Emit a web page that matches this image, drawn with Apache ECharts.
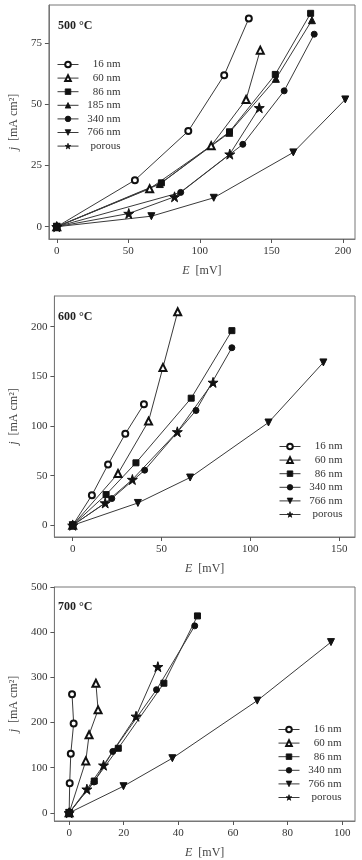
<!DOCTYPE html>
<html><head><meta charset="utf-8">
<script src="https://cdn.jsdelivr.net/npm/echarts@6/dist/echarts.min.js"></script>
<style>html,body{margin:0;padding:0;background:#fff}#c{width:362px;height:860px}</style>
</head><body><div id="c"></div>
<script>
// ---- data: [E mV, j mA cm^-2] ----
const t500_16  = [[0,0],[54.6,19.0],[91.9,39.0],[117,61.8],[134.2,84.9]];
const t500_60  = [[0,0],[64.9,15.5],[107.9,33.0],[132.3,51.9],[142.2,72.0]];
const t500_86  = [[0,0],[73.1,17.9],[120.7,38.7],[152.7,62.1],[177.4,87.0]];
const t500_185 = [[0,0],[72.0,17.4],[120.5,38.3],[153.1,60.3],[178.3,84.2]];
const t500_340 = [[0,0],[86.6,14.0],[130.0,33.6],[158.9,55.4],[179.9,78.5]];
const t500_766 = [[0,0],[66.1,4.3],[109.7,11.8],[165.3,30.3],[201.6,51.9]];
const t500_por = [[0,0],[50.3,5.4],[82.3,12.2],[120.9,29.6],[141.5,48.5]];

const t600_16  = [[0,0],[10.8,30.3],[19.9,61.2],[29.6,92.1],[40.1,122]];
const t600_60  = [[0,0],[25.5,52.1],[42.7,104.9],[50.8,159],[59.1,215]];
const t600_86  = [[0,0],[18.8,30.9],[35.6,62.9],[66.7,128],[89.6,196]];
const t600_340 = [[0,0],[22.0,26.9],[40.5,55.5],[69.4,115.6],[89.6,178.8]];
const t600_766 = [[0,0],[36.7,22.5],[66.1,48.1],[110.2,103.5],[141.1,164]];
const t600_por = [[0,0],[18.3,22.5],[33.6,46.1],[58.9,94.1],[79.0,143.9]];

const t700_16  = [[0,0],[0.2,65.5],[0.6,131],[1.65,198],[1.06,262.5]];
const t700_60  = [[0,0],[6.1,115],[7.3,173],[10.6,228],[9.8,287]];
const t700_86  = [[0,0],[9.2,70.5],[18.0,143],[34.7,287],[47.0,436]];
const t700_340 = [[0,0],[9.1,68.4],[16.0,136],[32.0,272.7],[46.0,414]];
const t700_766 = [[0,0],[19.9,59],[37.8,121],[68.9,248.5],[95.9,378]];
const t700_por = [[0,0],[6.5,52.4],[12.6,105.5],[24.5,213.8],[32.5,323.6]];

const xTicks500 = [0,50,100,150,200];
const yTicks500 = [0,25,50,75];
const xTicks600 = [0,50,100,150];
const yTicks600 = [0,50,100,150,200];
const xTicks700 = [0,20,40,60,80,100];
const yTicks700 = [0,100,200,300,400,500];

const panelTitles = ['500 °C','600 °C','700 °C'];

// ---- styling ----
const FONT = "'Liberation Serif','Times New Roman',serif";
const STAR = 'path://M50,0 L61,35 L98,35 L68,57 L79,91 L50,70 L21,91 L32,57 L2,35 L39,35 Z';
const sym = {
  '16 nm':  {symbol:'emptyCircle', size:6, rot:0, bw:0.8},
  '60 nm':  {symbol:'emptyTriangle', size:7, rot:0, bw:0.8},
  '86 nm':  {symbol:'rect', size:6, rot:0, bw:1},
  '185 nm': {symbol:'triangle', size:7, rot:0, bw:1},
  '340 nm': {symbol:'circle', size:6, rot:0, bw:1},
  '766 nm': {symbol:'triangle', size:7, rot:180, bw:1},
  'porous': {symbol:STAR, size:10, rot:0, bw:1}
};

const grids = [
  {left:43, top:5,   width:312, height:234},
  {left:43, top:296, width:312, height:241},
  {left:43, top:587, width:312, height:238}
];
const xr = [[-5.5,208.4],[-10.3,158.9],[-5.4,104.7]];
const yr = [[-5.0,90.4],[-11.8,230.9],[-18,500]];
const xt = [xTicks500,xTicks600,xTicks700];
const yt = [yTicks500,yTicks600,yTicks700];

const panels = [
  [['16 nm',t500_16],['60 nm',t500_60],['86 nm',t500_86],['185 nm',t500_185],['340 nm',t500_340],['766 nm',t500_766],['porous',t500_por]],
  [['16 nm',t600_16],['60 nm',t600_60],['86 nm',t600_86],['340 nm',t600_340],['766 nm',t600_766],['porous',t600_por]],
  [['16 nm',t700_16],['60 nm',t700_60],['86 nm',t700_86],['340 nm',t700_340],['766 nm',t700_766],['porous',t700_por]]
];

const series = [];
panels.forEach((p, i) => {
  p.forEach(([n, d]) => {
    const s = sym[n];
    series.push({
      name: n, type: 'line', xAxisIndex: i, yAxisIndex: i, data: d,
      symbol: s.symbol, symbolSize: s.size, symbolRotate: s.rot,
      lineStyle: {color:'#3a3a3a', width:1},
      itemStyle: {color:'#111', borderColor:'#111', borderWidth:s.bw},
      emphasis: {disabled:true}, animation:false, z: 3
    });
  });
});

const axisCommon = {
  type:'value', splitLine:{show:false},
  axisLine:{show:true, onZero:false, lineStyle:{color:'#777', width:1}},
  axisTick:{show:true, inside:false, length:4, lineStyle:{color:'#555'}},
  axisLabel:{color:'#333', fontFamily:FONT, fontSize:11}
};

const xAxis = grids.map((g,i)=>Object.assign({}, axisCommon, {
  gridIndex:i, min:xr[i][0], max:xr[i][1],
  axisTick:Object.assign({}, axisCommon.axisTick, {customValues:xt[i]}),
  axisLabel:Object.assign({}, axisCommon.axisLabel, {customValues:xt[i], margin:7}),
  name:'{i|E}  [mV]', nameLocation:'middle', nameGap:26,
  nameTextStyle:{color:'#444', fontFamily:FONT, fontSize:12, rich:{i:{fontStyle:'italic', fontFamily:FONT, fontSize:12, color:'#444'}}}
}));
const yAxis = grids.map((g,i)=>Object.assign({}, axisCommon, {
  gridIndex:i, min:yr[i][0], max:yr[i][1],
  axisTick:Object.assign({}, axisCommon.axisTick, {customValues:yt[i]}),
  axisLabel:Object.assign({}, axisCommon.axisLabel, {customValues:yt[i], margin:7}),
  name:'{i|j}  [mA cm²]', nameLocation:'middle', nameGap:24,
  nameTextStyle:{color:'#444', fontFamily:FONT, fontSize:12, rich:{i:{fontStyle:'italic', fontFamily:FONT, fontSize:12, color:'#444'}}}
}));

const legendPos = [{left:57, top:59},{left:279, top:441},{left:278, top:724}];
const legend = panels.map((p,i)=>({
  orient:'vertical', left:legendPos[i].left, top:legendPos[i].top,
  itemWidth:21, itemHeight:7, itemGap:2.6, padding:0,
  selectedMode:false,
  data:p.map(x=>x[0]),
  formatter: n => '{a|' + n + '}',
  itemStyle:{borderWidth:0.8},
  lineStyle:{width:1, color:'#3a3a3a'},
  textStyle:{color:'#333', fontFamily:FONT, fontSize:11, lineHeight:10,
    rich:{a:{width:37, align:'right', fontFamily:FONT, fontSize:11, lineHeight:10, color:'#333'}}}
}));

const title = panelTitles.map((t,i)=>({
  text:t, left:58, top:[20,311,601][i], padding:0,
  textStyle:{fontFamily:FONT, fontSize:12, fontWeight:'bold', color:'#222'}
}));

const chart = echarts.init(document.getElementById('c'), null, {renderer:'canvas'});
chart.setOption({
  animation:false,
  backgroundColor:'#fff',
  title,
  grid: grids.map(g=>Object.assign({show:true, borderColor:'#777', borderWidth:1, backgroundColor:'transparent', containLabel:false}, g)),
  xAxis, yAxis, legend, series
});
</script></body></html>
